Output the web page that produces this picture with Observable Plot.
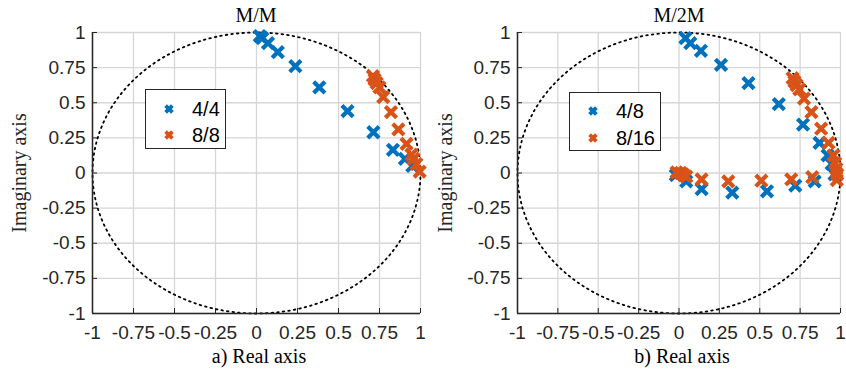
<!DOCTYPE html>
<html>
<head>
<meta charset="utf-8">
<script src="https://cdn.jsdelivr.net/npm/d3@7"></script>
<script src="https://cdn.jsdelivr.net/npm/@observablehq/plot@0.6"></script>
<style>
  html, body { margin: 0; padding: 0; background: #fff; }
  #wrap { position: relative; width: 846px; height: 374px; overflow: hidden; }
  .panel { position: absolute; top: 0; }
  .ttl { position: absolute; font-family: "Liberation Serif", "Times New Roman", serif; font-size: 20px; color: #000; white-space: nowrap; transform: translateX(-50%); line-height: 1; }
  .ylab { position: absolute; font-family: "Liberation Serif", "Times New Roman", serif; font-size: 20px; color: #262626; white-space: nowrap; line-height: 1; transform: translate(-50%, -50%) rotate(-90deg); }
  .legend { position: absolute; background: #fff; border: 1.5px solid #262626; box-sizing: border-box; font-family: "Liberation Sans", Arial, sans-serif; font-size: 20px; color: #000; }
  .row { position: absolute; left: 0; height: 24px; display: flex; align-items: center; }
  .row svg { display: block; }
</style>
</head>
<body>
<div id="wrap"></div>
<script>
// ---- data ----
const ticks = [-1, -0.75, -0.5, -0.25, 0, 0.25, 0.5, 0.75, 1];
const tickLabels = ["-1", "-0.75", "-0.5", "-0.25", "0", "0.25", "0.5", "0.75", "1"];

const titles = ["M/M", "M/2M"];
const xLabels = ["a) Real axis", "b) Real axis"];
const yLabel = "Imaginary axis";
const legendLeft = ["4/4", "8/8"];
const legendRight = ["4/8", "8/16"];
const colors = ["#0072BD", "#D95319"];

// M/M, 4/4 (blue)
const mm44 = [[0.02,0.975],[0.035,0.96],[0.07,0.925],[0.13,0.86],[0.237,0.76],[0.383,0.61],[0.555,0.44],[0.713,0.29],[0.832,0.165],[0.905,0.1],[0.95,0.05]];
// M/M, 8/8 (orange)
const mm88 = [[0.71,0.69],[0.72,0.665],[0.733,0.64],[0.75,0.61],[0.773,0.54],[0.82,0.433],[0.865,0.31],[0.915,0.207],[0.945,0.13],[0.958,0.1],[0.975,0.064],[0.995,0.01]];
// M/2M, 4/8 (blue)
const m2m48 = [[0.04,0.96],[0.07,0.925],[0.136,0.87],[0.26,0.77],[0.43,0.64],[0.618,0.49],[0.768,0.345],[0.87,0.215],[0.92,0.125],[0.945,0.065],[0.963,-0.01],
               [-0.02,-0.015],[0.045,-0.06],[0.14,-0.115],[0.33,-0.14],[0.545,-0.13],[0.72,-0.09],[0.84,-0.06]];
// M/2M, 8/16 (orange)
const m2m816 = [[0.703,0.675],[0.715,0.65],[0.728,0.625],[0.745,0.595],[0.774,0.53],[0.82,0.433],[0.88,0.315],[0.926,0.215],[0.956,0.125],[0.967,0.07],[0.975,0.03],[0.98,-0.01],[0.977,-0.05],
                [-0.015,0.005],[0.01,0.0],[0.025,-0.01],[0.045,-0.025],[0.14,-0.045],[0.305,-0.06],[0.51,-0.055],[0.695,-0.045],[0.825,-0.03]];

// unit circle reference (geometry, not data)
const circle = d3.range(0, 361, 1).map(a => ({re: Math.cos(a * Math.PI / 180), im: Math.sin(a * Math.PI / 180)}));

const toRows = arr => arr.map(([re, im]) => ({re, im}));
const fmt = d => tickLabels[ticks.indexOf(d)] ?? String(d);

function panel(blue, orange, width, ml, mr) {
  return Plot.plot({
    width, height: 374,
    marginLeft: ml, marginRight: mr, marginTop: 32, marginBottom: 61,
    x: {domain: [-1, 1]},
    y: {domain: [-1, 1]},
    style: {fontFamily: "'Liberation Sans', Arial, sans-serif", fontSize: "19px", color: "#262626", background: "transparent", overflow: "visible"},
    marks: [
      Plot.gridX(ticks, {stroke: "#d6d6d6", strokeOpacity: 1, strokeWidth: 1.3}),
      Plot.gridY(ticks, {stroke: "#d6d6d6", strokeOpacity: 1, strokeWidth: 1.3}),
      Plot.line(circle, {x: "re", y: "im", stroke: "#000", strokeWidth: 1.8, strokeDasharray: "1.6,4"}),
      Plot.ruleX([-1], {stroke: "#262626", strokeWidth: 1.5}),
      Plot.ruleY([-1], {stroke: "#262626", strokeWidth: 1.5}),
      Plot.axisX(ticks, {anchor: "bottom", tickSize: 5, tickFormat: () => "", dy: -5, stroke: "#262626", label: null}),
      Plot.axisY(ticks, {anchor: "left", tickSize: 5, tickFormat: () => "", dx: 5, stroke: "#262626", label: null}),
      Plot.axisX(ticks, {anchor: "bottom", tickSize: 0, tickPadding: 12, tickFormat: fmt, fill: "#262626", label: null}),
      Plot.axisY(ticks, {anchor: "left", tickSize: 0, tickPadding: 7, tickFormat: fmt, fill: "#262626", label: null}),
      Plot.dot(toRows(blue), {x: "re", y: "im", symbol: "times", r: 5.2, stroke: colors[0], strokeWidth: 4.2}),
      Plot.dot(toRows(orange), {x: "re", y: "im", symbol: "times", r: 5.2, stroke: colors[1], strokeWidth: 4.2})
    ]
  });
}

const wrap = document.getElementById("wrap");

const p1 = panel(mm44, mm88, 425, 92, 5);
p1.classList.add("panel"); p1.style.left = "0px";
wrap.appendChild(p1);

const p2 = panel(m2m48, m2m816, 421, 93, 5);
p2.classList.add("panel"); p2.style.left = "424px";
wrap.appendChild(p2);

function addDiv(cls, text, left, top) {
  const d = document.createElement("div");
  d.className = cls; d.textContent = text;
  d.style.left = left + "px"; d.style.top = top + "px";
  wrap.appendChild(d);
  return d;
}
addDiv("ttl", titles[0], 256, 5);
addDiv("ttl", titles[1], 679, 5);
addDiv("ttl", xLabels[0], 259, 346);
addDiv("ttl", xLabels[1], 682, 346);
addDiv("ylab", yLabel, 19, 173);
addDiv("ylab", yLabel, 445, 173);

function marker(color) {
  return `<svg width="12" height="12" viewBox="-6 -6 12 12"><path d="M-3.4,-3.4L3.4,3.4M-3.4,3.4L3.4,-3.4" stroke="${color}" stroke-width="3.8" fill="none"/></svg>`;
}
function legend(labels, left, top, w, h, mx, tx, rows) {
  const box = document.createElement("div");
  box.className = "legend";
  box.style.left = left + "px"; box.style.top = top + "px";
  box.style.width = w + "px"; box.style.height = h + "px";
  labels.forEach((lab, i) => {
    const r = document.createElement("div");
    r.className = "row";
    r.style.top = (rows[i] - top - 12) + "px";
    r.innerHTML = `<span style="position:absolute;left:${mx - left - 7}px;top:6px">${marker(colors[i])}</span><span style="position:absolute;left:${tx - left}px;top:0;line-height:24px">${lab}</span>`;
    box.appendChild(r);
  });
  wrap.appendChild(box);
}
legend(legendLeft, 145, 89, 81, 60, 169, 191, [108, 134]);
legend(legendRight, 569, 92, 92, 59, 593, 615, [110, 137]);
</script>
</body>
</html>
